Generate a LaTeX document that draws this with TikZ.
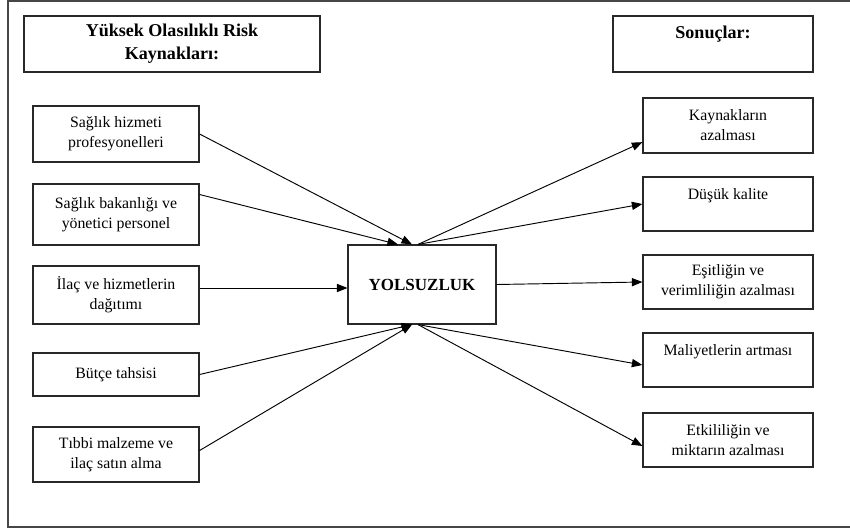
\documentclass[tikz,border=0pt]{standalone}
\usepackage{fontspec}
\setmainfont{Liberation Serif}
\usepackage{tikz}
\usetikzlibrary{arrows.meta,positioning}
\definecolor{cerceveGri}{RGB}{70,70,70}
\definecolor{kutuGri}{RGB}{40,40,40}

\begin{document}
\begin{tikzpicture}[x=0.03cm,y=-0.03cm,
  kutu/.style={rectangle,draw=kutuGri,line width=1pt,align=center,inner sep=2pt,
               minimum width=4.98cm,font=\fontsize{13.5}{17}\selectfont},
  sonuc/.style={kutu,minimum width=5.1cm,minimum height=1.62cm},
  baslik/.style={kutu,font=\fontsize{15.4}{19.6}\selectfont\bfseries,minimum height=1.68cm},
  ok/.style={-{Triangle[length=9pt,width=7pt]},line width=0.8pt,black}]

  \useasboundingbox (0,0) rectangle (850,530);
  \draw[cerceveGri,line width=1.3pt] (850,1)--(8,1)--(8,527)--(850,527);

  % basliklar
  \node[baslik,minimum width=8.88cm] (BK) at (172,44) {Yüksek Olasılıklı Risk\\Kaynakları:};
  \node[baslik,minimum width=6cm] (BS) at (713,44) {Sonuçlar:\\\mbox{}};

  % risk kaynaklari
  \node[kutu,minimum height=1.68cm] (K1) at (116,134) {Sağlık hizmeti\\profesyonelleri};
  \node[kutu,minimum height=1.83cm] (K2) at (116,214.5) {Sağlık bakanlığı ve\\yönetici personel};
  \node[kutu,minimum height=1.74cm] (K3) at (116,295) {İlaç ve hizmetlerin\\dağıtımı};
  \node[kutu,minimum height=1.29cm] (K4) at (116,374.5) {Bütçe tahsisi};
  \node[kutu,minimum height=1.65cm] (K5) at (116,454.5) {Tıbbi malzeme ve\\ilaç satın alma};

  % merkez
  \node[kutu,minimum width=4.44cm,minimum height=2.37cm,
        font=\fontsize{14.5}{17}\selectfont\bfseries] (YOL) at (422,284.5) {YOLSUZLUK};

  % sonuclar
  \node[sonuc,minimum height=1.65cm] (S1) at (728,125.5) {Kaynakların\\azalması};
  \node[sonuc] (S2) at (728,204) {Düşük kalite\\\mbox{}};
  \node[sonuc] (S3) at (728,282) {Eşitliğin ve\\verimliliğin azalması};
  \node[sonuc] (S4) at (728,360) {Maliyetlerin artması\\\mbox{}};
  \node[sonuc] (S5) at (728,440) {Etkililiğin ve\\miktarın azalması};

  \draw[ok] (K1.east)--([xshift=-0.3cm]YOL.north);
  \draw[ok] ([yshift=0.6cm]K2.east)--([xshift=-0.72cm]YOL.north);
  \draw[ok] ([yshift=0.21cm]K3.east)--([yshift=0.21cm]K3.east -| YOL.west);
  \draw[ok] (K4.east)--([xshift=-0.3cm]YOL.south);
  \draw[ok] ([yshift=0.12cm]K5.east)--([xshift=-0.3cm]YOL.south);

  \draw[ok] ([xshift=-0.12cm]YOL.north)--([yshift=-0.5cm]S1.west);
  \draw[ok] ([xshift=-0.12cm]YOL.north)--(S2.west);
  \draw[ok] (YOL.east)--(S3.west);
  \draw[ok] ([xshift=-0.12cm]YOL.south)--([yshift=-0.15cm]S4.west);
  \draw[ok] ([xshift=-0.12cm]YOL.south)--([yshift=-0.18cm]S5.west);
\end{tikzpicture}
\end{document}
